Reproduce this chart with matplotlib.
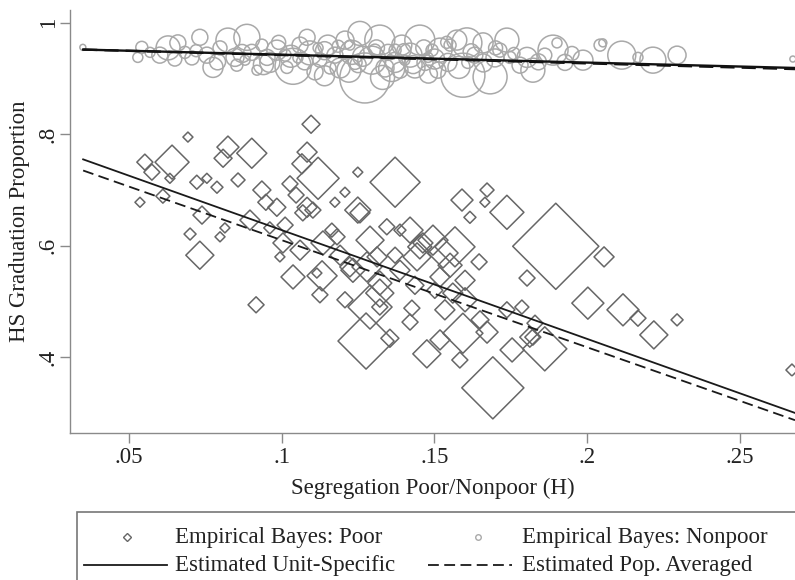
import numpy as np
import matplotlib
matplotlib.use("Agg")
import matplotlib.pyplot as plt
from matplotlib.lines import Line2D
from matplotlib.patches import Rectangle

plt.rcParams['font.family'] = ['Liberation Serif', 'DejaVu Serif']

# Empirical Bayes estimates, poor students (x = segregation H, y = grad proportion, wt = relative size)
poor_x = [0.0552, 0.0641, 0.0575, 0.0634, 0.0693, 0.0536, 0.0611, 0.0722, 0.0755, 0.0788,
          0.0857, 0.0824, 0.0808, 0.0902, 0.0739, 0.0700, 0.0814, 0.0798, 0.0732, 0.0916,
          0.1096, 0.1083, 0.1066, 0.1119, 0.1249, 0.1371, 0.1207, 0.1174, 0.0935, 0.0948,
          0.0984, 0.1027, 0.1047, 0.1083, 0.1249, 0.1037, 0.1115, 0.1132, 0.0994, 0.1060,
          0.1233, 0.1321, 0.1276, 0.1321, 0.1354, 0.1289, 0.1420, 0.1344, 0.1069, 0.1102,
          0.1135, 0.1181, 0.1289, 0.1004, 0.1312, 0.1223, 0.1443, 0.1462, 0.1590, 0.1672,
          0.1665, 0.1737, 0.1897, 0.2055, 0.1616, 0.1567, 0.1646, 0.1803, 0.2002, 0.2117,
          0.2166, 0.2218, 0.2294, 0.2670, 0.1691, 0.1861, 0.1754, 0.1812, 0.1475, 0.1593,
          0.1672, 0.1737, 0.1786, 0.1426, 0.1420, 0.1164, 0.1256, 0.1387, 0.1452, 0.1495,
          0.1528, 0.1279, 0.1321, 0.1829, 0.1822, 0.1560, 0.1518, 0.1551, 0.1600, 0.1501,
          0.1600, 0.1534, 0.1387, 0.1371, 0.1191, 0.1011, 0.0961, 0.0896, 0.1125, 0.1207,
          0.1436, 0.1649, 0.1583, 0.1518]
poor_y = [0.750, 0.750, 0.732, 0.721, 0.795, 0.678, 0.689, 0.714, 0.721, 0.705,
          0.718, 0.777, 0.757, 0.766, 0.655, 0.621, 0.632, 0.616, 0.583, 0.494,
          0.818, 0.768, 0.747, 0.721, 0.732, 0.714, 0.696, 0.678, 0.700, 0.678,
          0.669, 0.711, 0.691, 0.669, 0.664, 0.544, 0.551, 0.546, 0.580, 0.592,
          0.556, 0.533, 0.429, 0.490, 0.434, 0.490, 0.628, 0.634, 0.659, 0.664,
          0.605, 0.616, 0.610, 0.605, 0.580, 0.562, 0.580, 0.605, 0.682, 0.700,
          0.678, 0.660, 0.599, 0.580, 0.651, 0.598, 0.571, 0.542, 0.497, 0.485,
          0.470, 0.440, 0.467, 0.377, 0.345, 0.415, 0.413, 0.436, 0.406, 0.443,
          0.445, 0.485, 0.490, 0.488, 0.463, 0.628, 0.659, 0.628, 0.598, 0.610,
          0.587, 0.562, 0.515, 0.461, 0.436, 0.515, 0.544, 0.565, 0.538, 0.520,
          0.503, 0.485, 0.556, 0.583, 0.583, 0.637, 0.632, 0.646, 0.512, 0.503,
          0.529, 0.467, 0.395, 0.431]
poor_wt = [64, 289, 64, 25, 25, 25, 49, 49, 25, 36,
           49, 121, 81, 225, 81, 36, 25, 25, 196, 64,
           81, 100, 100, 441, 25, 625, 25, 25, 81, 64,
           81, 64, 64, 100, 169, 144, 25, 225, 25, 100,
           144, 144, 784, 64, 81, 484, 169, 64, 64, 64,
           144, 64, 196, 100, 100, 100, 196, 100, 121, 49,
           25, 289, 1849, 100, 36, 400, 64, 64, 256, 256,
           64, 196, 36, 36, 961, 484, 144, 100, 196, 400,
           121, 64, 49, 64, 64, 49, 100, 36, 144, 225,
           225, 225, 196, 64, 64, 100, 100, 144, 100, 64,
           144, 100, 100, 64, 100, 64, 36, 100, 64, 64,
           81, 81, 64, 100]

# Empirical Bayes estimates, nonpoor students
nonpoor_x = [0.0349, 0.0529, 0.0542, 0.0569, 0.0601, 0.0628, 0.0660, 0.0683, 0.0706, 0.0732,
             0.0755, 0.0775, 0.0798, 0.0824, 0.0847, 0.0886, 0.0902, 0.0919, 0.0935, 0.0952,
             0.0984, 0.1017, 0.1037, 0.1060, 0.1083, 0.1092, 0.1125, 0.1151, 0.1174, 0.1191,
             0.1207, 0.1230, 0.1256, 0.1272, 0.1295, 0.1321, 0.1348, 0.1371, 0.1393, 0.1420,
             0.1452, 0.1469, 0.1492, 0.1518, 0.1544, 0.1573, 0.1593, 0.1606, 0.1632, 0.1659,
             0.1682, 0.1698, 0.1737, 0.1747, 0.1780, 0.1803, 0.1822, 0.1861, 0.1888, 0.1901,
             0.1927, 0.1986, 0.2042, 0.2051, 0.2113, 0.2166, 0.2215, 0.2294, 0.2673, 0.0961,
             0.1011, 0.1109, 0.1158, 0.1240, 0.1338, 0.1387, 0.1436, 0.1511, 0.1551, 0.0853,
             0.0880, 0.1223, 0.1371, 0.1403, 0.1053, 0.1119, 0.1305, 0.1479, 0.1609, 0.1714,
             0.0650, 0.0720, 0.0790, 0.0870, 0.0940, 0.0990, 0.1030, 0.1075, 0.1140, 0.1185,
             0.1220, 0.1265, 0.1310, 0.1360, 0.1400, 0.1430, 0.1465, 0.1500, 0.1540, 0.1580,
             0.1620, 0.1660, 0.1700, 0.1760, 0.1840, 0.1950, 0.1140, 0.1330, 0.1480, 0.1250]
nonpoor_y = [0.956, 0.938, 0.956, 0.947, 0.942, 0.955, 0.964, 0.947, 0.937, 0.974,
             0.942, 0.920, 0.955, 0.969, 0.938, 0.974, 0.947, 0.915, 0.960, 0.938,
             0.951, 0.920, 0.922, 0.960, 0.974, 0.946, 0.933, 0.960, 0.942, 0.919,
             0.969, 0.947, 0.981, 0.901, 0.933, 0.969, 0.947, 0.929, 0.960, 0.942,
             0.969, 0.929, 0.951, 0.951, 0.929, 0.969, 0.906, 0.964, 0.942, 0.964,
             0.903, 0.937, 0.969, 0.938, 0.924, 0.938, 0.915, 0.942, 0.951, 0.964,
             0.929, 0.933, 0.960, 0.964, 0.942, 0.938, 0.933, 0.942, 0.935, 0.929,
             0.942, 0.912, 0.919, 0.929, 0.919, 0.915, 0.919, 0.915, 0.960, 0.924,
             0.933, 0.960, 0.951, 0.933, 0.937, 0.955, 0.951, 0.938, 0.929, 0.951,
             0.935, 0.950, 0.930, 0.945, 0.925, 0.965, 0.940, 0.930, 0.950, 0.958,
             0.915, 0.940, 0.955, 0.918, 0.950, 0.925, 0.955, 0.935, 0.965, 0.920,
             0.948, 0.928, 0.955, 0.945, 0.930, 0.945, 0.905, 0.902, 0.908, 0.925]
nonpoor_wt = [9, 25, 36, 25, 64, 144, 64, 36, 49, 64,
              64, 100, 49, 144, 81, 169, 64, 25, 36, 64,
              100, 36, 324, 64, 64, 144, 49, 100, 64, 100,
              81, 144, 144, 625, 196, 225, 64, 100, 100, 144,
              225, 64, 36, 144, 81, 100, 484, 225, 64, 100,
              289, 81, 144, 36, 64, 100, 144, 49, 225, 25,
              64, 100, 36, 16, 196, 25, 169, 81, 9, 100,
              36, 64, 36, 49, 81, 64, 100, 64, 36, 36,
              25, 25, 36, 25, 25, 25, 36, 25, 36, 49,
              49, 36, 64, 81, 100, 49, 121, 64, 81, 36,
              144, 100, 64, 169, 49, 81, 64, 100, 36, 121,
              64, 81, 49, 36, 64, 49, 100, 144, 81, 64]

# fitted lines (endpoints over the observed range of H)
fit_x = [0.035, 0.268]
poor_unit = [0.755, 0.300]
poor_pop = [0.735, 0.287]
nonpoor_unit = [0.952, 0.919]
nonpoor_pop = [0.952, 0.917]

dark = '#666666'
light = '#a9a9a9'
txt = '#222222'
fs = 16.5

fig = plt.figure(figsize=(7.95, 5.8), dpi=100)
ax = fig.add_axes([70/795, 147/580, 725/795, 423/580])

ax.scatter(nonpoor_x, nonpoor_y, s=np.array(nonpoor_wt)*2.07, marker='o',
           facecolors='none', edgecolors=light, linewidths=1.1, zorder=2)
ax.scatter(poor_x, poor_y, s=np.array(poor_wt)*1.04, marker='D',
           facecolors='none', edgecolors=dark, linewidths=1.1, zorder=3)

ax.plot(fit_x, poor_unit, color='#1a1a1a', lw=1.3, zorder=4)
ax.plot(fit_x, poor_pop, color='#1a1a1a', lw=1.3, ls=(0, (6, 3)), zorder=4)
ax.plot(fit_x, nonpoor_unit, color='#111111', lw=1.7, zorder=4)
ax.plot(fit_x, nonpoor_pop, color='#111111', lw=1.7, ls=(0, (6, 3)), zorder=4)

ax.set_xlim(0.0307, 0.268)
ax.set_ylim(0.264, 1.023)
ax.set_xticks([0.05, 0.1, 0.15, 0.2, 0.25])
ax.set_xticklabels(['.05', '.1', '.15', '.2', '.25'])
ax.set_yticks([0.4, 0.6, 0.8, 1.0])
ax.set_yticklabels(['.4', '.6', '.8', '1'], rotation=90, va='center')

for side in ['top', 'right']:
    ax.spines[side].set_visible(False)
for side in ['left', 'bottom']:
    ax.spines[side].set_color('#8a8a8a')
    ax.spines[side].set_linewidth(1.0)
ax.tick_params(length=7, width=1.0, color='#8a8a8a', labelsize=fs, labelcolor=txt, pad=3)
ax.tick_params(axis='y', pad=1)

ax.set_xlabel('Segregation Poor/Nonpoor (H)', fontsize=fs, color=txt, labelpad=7)
ax.set_ylabel('HS Graduation Proportion', fontsize=fs, color=txt, labelpad=6)

# legend box (runs off the page at right and bottom like the original)
fig.add_artist(Rectangle((77/795, -0.05), 1.0, (580-512)/580 + 0.05,
                         transform=fig.transFigure, fill=False,
                         edgecolor='#777777', lw=1.2))
r1 = 1 - 537/580
r2 = 1 - 565/580
fig.add_artist(Line2D([127/795], [r1], marker='D', ms=4.5, mfc='none', mec=dark, mew=1.0,
                      transform=fig.transFigure))
fig.add_artist(Line2D([478/795], [r1], marker='o', ms=4, mfc='none', mec=light, mew=1.0,
                      transform=fig.transFigure))
fig.add_artist(Line2D([84/795, 167/795], [r2, r2], color='#1a1a1a', lw=1.3,
                      transform=fig.transFigure))
fig.add_artist(Line2D([428/795, 512/795], [r2, r2], color='#1a1a1a', lw=1.3,
                      ls=(0, (6, 3)), transform=fig.transFigure))
fig.text(175/795, r1, 'Empirical Bayes: Poor', fontsize=fs, color=txt, va='center')
fig.text(522/795, r1, 'Empirical Bayes: Nonpoor', fontsize=fs, color=txt, va='center')
fig.text(175/795, r2, 'Estimated Unit-Specific', fontsize=fs, color=txt, va='center')
fig.text(522/795, r2, 'Estimated Pop. Averaged', fontsize=fs, color=txt, va='center')

fig.savefig('out.png', dpi=100)
